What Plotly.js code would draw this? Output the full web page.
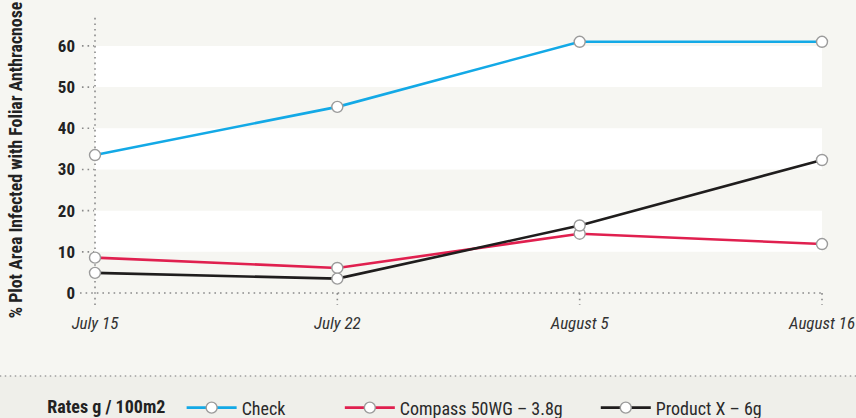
<!DOCTYPE html>
<html>
<head>
<meta charset="utf-8">
<script src="https://cdn.plot.ly/plotly-3.0.1.min.js"></script>
<style>
html,body{margin:0;padding:0;background:#f6f6f2;}
#chart{width:856px;height:418px;}
</style>
</head>
<body>
<div id="chart"></div>
<script>
// ---- data ----
const categories = ["July 15", "July 22", "August 5", "August 16"];
const checkValues = [33.5, 45.2, 61.0, 61.0];
const compassValues = [8.6, 6.1, 14.4, 11.9];
const productXValues = [4.9, 3.5, 16.4, 32.3];
const seriesNames = ["Check", "Compass 50WG \u2013 3.8g", "Product X \u2013 6g"];
const seriesColors = ["#13a9e6", "#e0204f", "#1f1d1d"];
const yTickValues = [0, 10, 20, 30, 40, 50, 60];
const yTickLabels = ["0", "10", "20", "30", "40", "50", "60"];
const bandPairs = [[10, 20], [30, 40], [50, 60]];
const legendTitle = "Rates g / 100m2";
const yTitle = "% Plot Area Infected with Foliar Anthracnose";

const xIdx = categories.map((c, i) => i);
const xMin = -0.0619, xMax = 3.033, yMin = -2.9, yMax = 67.5;
const FONT = "'Roboto Condensed', 'Open Sans', sans-serif";
const dotGrey = "#8a8a8a";

const allValues = [checkValues, compassValues, productXValues];
const legendIds = ["legend", "legend2", "legend3"];
const traces = allValues.map((vals, i) => ({
  type: "scatter",
  mode: "lines+markers",
  x: xIdx,
  y: vals,
  name: seriesNames[i],
  legend: legendIds[i],
  line: {color: seriesColors[i], width: 2.6},
  marker: {size: 11, color: "#ffffff", line: {color: "#9b9b9b", width: 1.4}},
  cliponaxis: false,
  hoverinfo: "skip"
}));

const shapes = [];
// bottom legend panel
shapes.push({type: "rect", xref: "paper", yref: "paper", x0: -0.2, x1: 1.2, y0: -0.245, y1: -0.5,
  fillcolor: "#efefea", line: {width: 0}, layer: "below"});
// separator dotted line
shapes.push({type: "line", xref: "paper", yref: "paper", x0: -0.107, x1: 1.04, y0: -0.245, y1: -0.245,
  line: {color: "#a0a0a0", width: 1.5, dash: "1.5px,3.5px"}});
// white bands
bandPairs.forEach(p => shapes.push({type: "rect", xref: "x", yref: "y", x0: 0, x1: 3, y0: p[0], y1: p[1],
  fillcolor: "#ffffff", line: {width: 0}, layer: "below"}));
// y axis dotted line
shapes.push({type: "line", xref: "x", yref: "y", x0: 0, x1: 0, y0: yMin, y1: yMax,
  line: {color: dotGrey, width: 1.6, dash: "1.6px,4px"}, layer: "below"});
// x axis dotted line
shapes.push({type: "line", xref: "x", yref: "y", x0: xMin, x1: 3, y0: 0, y1: 0,
  line: {color: dotGrey, width: 1.6, dash: "1.6px,4px"}, layer: "below"});
// y ticks dotted
yTickValues.slice(1).forEach(v => shapes.push({type: "line", xref: "x", yref: "y", x0: xMin + 0.008, x1: -0.004, y0: v, y1: v,
  line: {color: dotGrey, width: 1.6, dash: "1.6px,4px"}, layer: "below"}));
// x ticks dotted
xIdx.slice(1).forEach(v => shapes.push({type: "line", xref: "x", yref: "y", x0: v, x1: v, y0: 0, y1: yMin,
  line: {color: dotGrey, width: 1.6, dash: "1.6px,4px"}, layer: "below"}));

const legendBase = {
  orientation: "h", xref: "container", yref: "container", yanchor: "middle", xanchor: "left",
  y: 0.024, bgcolor: "rgba(0,0,0,0)", itemwidth: 50,
  font: {family: FONT, size: 18, color: "#2a2a2a"}
};

const layout = {
  width: 856, height: 418,
  margin: {l: 80, r: 26, t: 15, b: 113, pad: 0},
  paper_bgcolor: "#f6f6f2",
  plot_bgcolor: "rgba(0,0,0,0)",
  showlegend: true,
  legend: Object.assign({}, legendBase, {x: 0.053,
    title: {text: legendTitle + "\u00a0\u00a0", side: "left", font: {family: FONT, size: 18, color: "#222", weight: "bold"}}}),
  legend2: Object.assign({}, legendBase, {x: 0.397}),
  legend3: Object.assign({}, legendBase, {x: 0.696}),
  xaxis: {
    range: [xMin, xMax], showgrid: false, zeroline: false, showline: false,
    tickmode: "array", tickvals: xIdx, ticktext: categories, ticks: "",
    ticklabelstandoff: 6,
    tickfont: {family: FONT, size: 17, color: "#333", style: "italic"}
  },
  yaxis: {
    range: [yMin, yMax], showgrid: false, zeroline: false, showline: false,
    tickmode: "array", tickvals: yTickValues, ticktext: yTickLabels, ticks: "",
    ticklabelstandoff: 4,
    tickfont: {family: FONT, size: 17, color: "#222", weight: "bold"},
    title: {text: yTitle, standoff: 30, font: {family: FONT, size: 17.8, color: "#222", weight: "bold"}}
  },
  shapes: shapes,
  hovermode: false
};

Plotly.newPlot("chart", traces, layout, {displayModeBar: false, staticPlot: true});
</script>
</body>
</html>
